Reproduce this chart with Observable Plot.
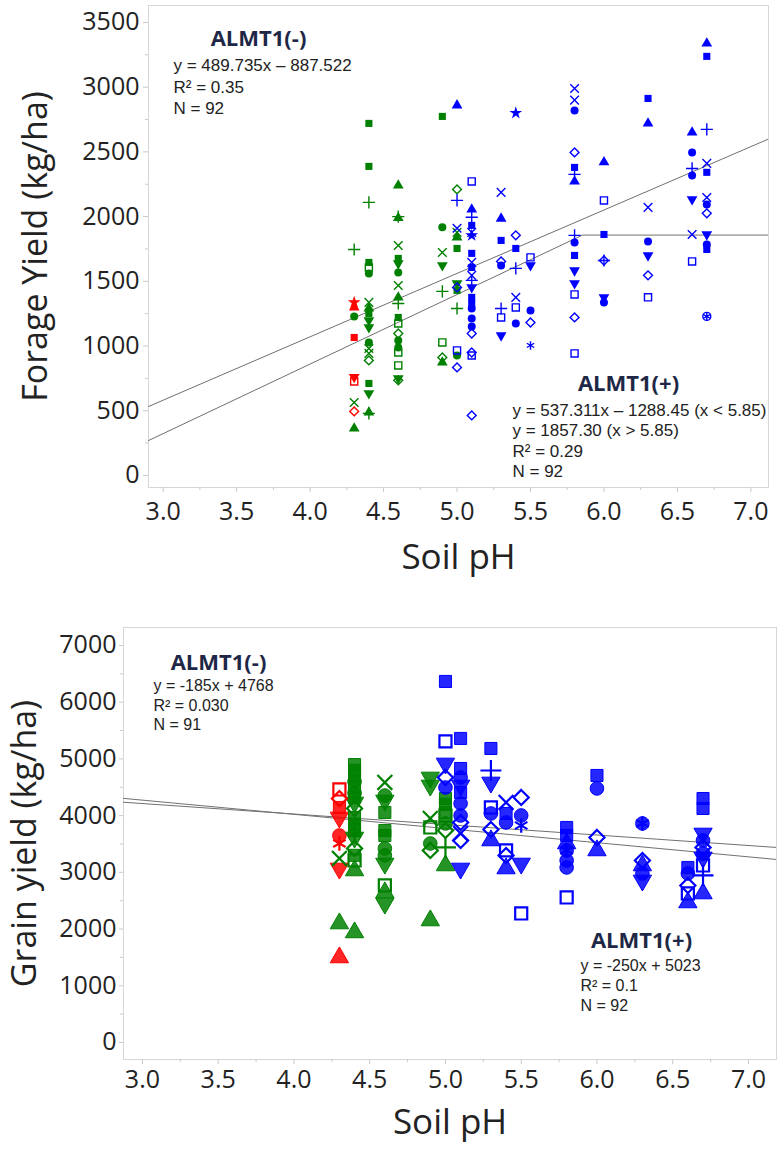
<!DOCTYPE html>
<html>
<head>
<meta charset="utf-8">
<script src="https://cdn.jsdelivr.net/npm/d3@7"></script>
<script src="https://cdn.jsdelivr.net/npm/@observablehq/plot@0.6"></script>
<style>
  body { margin: 0; background: #fff; }
  #chart { width: 777px; }
  #chart svg { display: block; }
</style>
</head>
<body>
<div id="chart"></div>
<script>
// ---------------- DATA ----------------
// Colour groups (categories) and marker codes
const groups = ["red", "green", "blue"];
const groupColors = ["#e8283e", "#34a04a", "#2563f0"];
const shapeCodes = ["sq", "sqo", "ci", "cio", "tu", "td", "dio", "x", "pl", "st", "as"];
const openCodes = ["sqo", "cio", "dio", "x", "pl", "as"];

// Axis ticks
const xTicks = [3.0, 3.5, 4.0, 4.5, 5.0, 5.5, 6.0, 6.5, 7.0];
const xMinorTicks = [3.25, 3.75, 4.25, 4.75, 5.25, 5.75, 6.25, 6.75];
const forageYTicks = [0, 500, 1000, 1500, 2000, 2500, 3000, 3500];
const forageYMinor = [250, 750, 1250, 1750, 2250, 2750, 3250];
const grainYTicks = [0, 1000, 2000, 3000, 4000, 5000, 6000, 7000];
const grainYMinor = [500, 1500, 2500, 3500, 4500, 5500, 6500];

// Forage yield (kg/ha) vs soil pH : [pH, yield, marker]
const forageRed = [
  [4.3,1337,"st"],[4.3,1298,"tu"],[4.3,1066,"sq"],[4.3,760,"td"],[4.3,726,"sqo"],[4.3,495,"dio"]
];
const forageGreen = [
  [4.3,1746,"pl"],[4.3,1229,"ci"],[4.3,564,"x"],[4.3,363,"tu"],
  [4.4,2720,"sq"],[4.4,2388,"sq"],[4.4,2110,"pl"],[4.4,1646,"sq"],[4.4,1607,"sqo"],[4.4,1561,"ci"],
  [4.4,1337,"x"],[4.4,1290,"tu"],[4.4,1252,"sq"],[4.4,1198,"td"],[4.4,1144,"td"],[4.4,1028,"ci"],
  [4.4,981,"x"],[4.4,943,"x"],[4.4,889,"dio"],[4.4,711,"sq"],[4.4,634,"td"],[4.4,487,"tu"],[4.4,480,"pl"],
  [4.6,2241,"tu"],[4.6,2000,"pl"],[4.6,1990,"tu"],[4.6,1777,"x"],[4.6,1677,"sq"],[4.6,1638,"td"],
  [4.6,1569,"ci"],[4.6,1468,"x"],[4.6,1376,"tu"],[4.6,1329,"pl"],[4.6,1221,"sq"],[4.6,1175,"sqo"],
  [4.6,1097,"dio"],[4.6,1043,"ci"],[4.6,989,"ci"],[4.6,950,"sqo"],[4.6,850,"sqo"],[4.6,750,"td"],[4.6,735,"dio"],
  [4.9,2774,"sq"],[4.9,1917,"ci"],[4.9,1723,"x"],[4.9,1623,"td"],[4.9,1422,"pl"],[4.9,1028,"sqo"],[4.9,912,"dio"],[4.9,873,"tu"],
  [5.0,2210,"dio"],[5.0,1878,"x"],[5.0,1840,"tu"],[5.0,1754,"sq"],[5.0,1484,"td"],[5.0,1430,"sq"],[5.0,1290,"pl"],[5.0,927,"ci"]
];
const forageBlue = [
  [5.0,2860,"tu"],[5.0,2125,"pl"],[5.0,1910,"x"],[5.0,1453,"dio"],[5.0,966,"sqo"],[5.0,835,"dio"],
  [5.1,2272,"sqo"],[5.1,2055,"tu"],[5.1,1995,"pl"],[5.1,1932,"sq"],[5.1,1878,"x"],[5.1,1855,"st"],
  [5.1,1716,"sq"],[5.1,1646,"x"],[5.1,1607,"sq"],[5.1,1546,"x"],[5.1,1507,"pl"],[5.1,1453,"td"],
  [5.1,1376,"sq"],[5.1,1329,"sq"],[5.1,1290,"ci"],[5.1,1213,"ci"],[5.1,1151,"ci"],[5.1,1097,"dio"],
  [5.1,950,"dio"],[5.1,927,"sqo"],[5.1,464,"dio"],
  [5.3,2187,"x"],[5.3,1985,"tu"],[5.3,1816,"sq"],[5.3,1654,"dio"],[5.3,1623,"ci"],[5.3,1290,"pl"],[5.3,1221,"sqo"],[5.3,1082,"td"],
  [5.4,2800,"st"],[5.4,1855,"dio"],[5.4,1754,"sq"],[5.4,1600,"pl"],[5.4,1376,"x"],[5.4,1298,"sqo"],[5.4,1175,"ci"],
  [5.5,1685,"sqo"],[5.5,1623,"td"],[5.5,1275,"ci"],[5.5,1182,"dio"],[5.5,1005,"as"],
  [5.8,2990,"x"],[5.8,2900,"x"],[5.8,2820,"ci"],[5.8,2496,"dio"],[5.8,2380,"sq"],[5.8,2326,"pl"],[5.8,2272,"tu"],
  [5.8,1855,"pl"],[5.8,1800,"ci"],[5.8,1700,"sq"],[5.8,1584,"td"],[5.8,1484,"td"],[5.8,1399,"sqo"],[5.8,1221,"dio"],[5.8,943,"sqo"],
  [6.0,2420,"tu"],[6.0,2125,"sqo"],[6.0,1862,"sq"],[6.0,1661,"dio"],[6.0,1661,"pl"],[6.0,1376,"td"],[6.0,1337,"ci"],
  [6.3,2913,"sq"],[6.3,2720,"tu"],[6.3,2071,"x"],[6.3,1808,"ci"],[6.3,1700,"td"],[6.3,1546,"dio"],[6.3,1376,"sqo"],
  [6.6,2650,"tu"],[6.6,2496,"ci"],[6.6,2372,"pl"],[6.6,2318,"ci"],[6.6,2133,"td"],[6.6,1862,"x"],[6.6,1654,"sqo"],
  [6.7,3338,"tu"],[6.7,3238,"sq"],[6.7,2674,"pl"],[6.7,2411,"x"],[6.7,2342,"sq"],[6.7,2148,"x"],[6.7,2094,"ci"],
  [6.7,2025,"dio"],[6.7,1862,"td"],[6.7,1785,"ci"],[6.7,1746,"sq"],[6.7,1229,"cio"],[6.7,1229,"as"]
];

// Grain yield (kg/ha) vs soil pH : [pH, yield, marker]
const grainRed = [
  [4.3,4461,"sqo"],[4.3,4300,"dio"],[4.3,4144,"sq"],[4.3,3968,"td"],[4.3,3650,"ci"],[4.3,3509,"as"],[4.3,3068,"td"],[4.3,1499,"tu"]
];
const grainGreen = [
  [4.3,3245,"x"],[4.3,2098,"tu"],
  [4.4,4900,"sq"],[4.4,4800,"sq"],[4.4,4700,"sq"],[4.4,4600,"ci"],[4.4,4500,"sq"],[4.4,4400,"ci"],[4.4,4320,"sq"],
  [4.4,4232,"td"],[4.4,4126,"dio"],[4.4,3968,"sq"],[4.4,3850,"sq"],[4.4,3738,"sq"],[4.4,3685,"as"],[4.4,3615,"td"],
  [4.4,3421,"dio"],[4.4,3300,"sq"],[4.4,3209,"sqo"],[4.4,3033,"tu"],[4.4,1940,"tu"],
  [4.6,4585,"x"],[4.6,4355,"ci"],[4.6,4267,"td"],[4.6,4056,"sq"],[4.6,3738,"sq"],[4.6,3650,"sq"],[4.6,3421,"ci"],
  [4.6,3300,"ci"],[4.6,3156,"td"],[4.6,2768,"sqo"],[4.6,2645,"tu"],[4.6,2451,"td"],
  [4.9,4673,"td"],[4.9,4532,"td"],[4.9,3950,"x"],[4.9,3791,"sqo"],[4.9,3509,"ci"],[4.9,3386,"dio"],[4.9,2151,"tu"],
  [5.0,4302,"sq"],[5.0,4200,"sq"],[5.0,4056,"sq"],[5.0,4000,"sqo"],[5.0,3862,"ci"],[5.0,3738,"dio"],[5.0,3439,"pl"],[5.0,3121,"tu"]
];
const grainBlue = [
  [5.0,6366,"sq"],[5.0,5308,"sqo"],[5.0,4920,"td"],[5.0,4673,"dio"],[5.0,4496,"ci"],
  [5.1,5361,"sq"],[5.1,4831,"sq"],[5.1,4673,"ci"],[5.1,4532,"td"],[5.1,4408,"sq"],[5.1,4214,"ci"],[5.1,4003,"ci"],
  [5.1,3879,"dio"],[5.1,3685,"x"],[5.1,3562,"dio"],[5.1,3068,"td"],
  [5.3,5184,"sq"],[5.3,4796,"pl"],[5.3,4585,"td"],[5.3,4144,"sqo"],[5.3,4038,"ci"],[5.3,3756,"dio"],[5.3,3562,"tu"],
  [5.4,4232,"x"],[5.4,4038,"sq"],[5.4,3879,"ci"],[5.4,3386,"sqo"],[5.4,3297,"dio"],[5.4,3068,"tu"],
  [5.5,4320,"dio"],[5.5,4003,"ci"],[5.5,3826,"as"],[5.5,3156,"td"],[5.5,2275,"sqo"],
  [5.8,3791,"sq"],[5.8,3650,"sq"],[5.8,3509,"tu"],[5.8,3386,"ci"],[5.8,3386,"as"],[5.8,3209,"ci"],[5.8,3086,"ci"],[5.8,2557,"sqo"],
  [6.0,4708,"sq"],[6.0,4479,"ci"],[6.0,3615,"dio"],[6.0,3386,"tu"],
  [6.3,3862,"ci"],[6.3,3862,"as"],[6.3,3209,"dio"],[6.3,3121,"tu"],[6.3,2980,"ci"],[6.3,2857,"td"],
  [6.6,3086,"sq"],[6.6,2980,"ci"],[6.6,2768,"dio"],[6.6,2627,"sqo"],[6.6,2469,"tu"],
  [6.7,4302,"sq"],[6.7,4126,"sq"],[6.7,3685,"td"],[6.7,3562,"ci"],[6.7,3439,"dio"],[6.7,3333,"ci"],
  [6.7,3262,"td"],[6.7,3121,"sqo"],[6.7,2945,"pl"],[6.7,2627,"tu"]
];

// Regression fits (from the printed equations)
const forageFitMinus = {slope: 489.735, intercept: -887.522};
const forageFitPlus = {slope: 537.311, intercept: -1288.45, breakAt: 5.85, plateau: 1857.30};
const grainFitMinus = {slope: -185, intercept: 4768};
const grainFitPlus = {slope: -250, intercept: 5023};

// Annotation texts
const forageTextMinus = ["ALMT1(-)", "y = 489.735x \u2013 887.522\nR\u00b2 = 0.35\nN = 92"];
const forageTextPlus = ["ALMT1(+)", "y = 537.311x \u2013 1288.45 (x < 5.85)\ny = 1857.30 (x > 5.85)\nR\u00b2 = 0.29\nN = 92"];
const grainTextMinus = ["ALMT1(-)", "y = -185x + 4768\nR\u00b2 = 0.030\nN = 91"];
const grainTextPlus = ["ALMT1(+)", "y = -250x + 5023\nR\u00b2 = 0.1\nN = 92"];

// ---------------- HELPERS ----------------
const triangleDown = {
  draw(context, size) {
    const s3 = Math.sqrt(3);
    const y = -Math.sqrt(size / (s3 * 3));
    context.moveTo(0, -y * 2);
    context.lineTo(-s3 * y, y);
    context.lineTo(s3 * y, y);
    context.closePath();
  }
};
const shapeSymbols = [d3.symbolSquare, d3.symbolSquare, d3.symbolCircle, d3.symbolCircle,
  d3.symbolTriangle, triangleDown, d3.symbolDiamond2, d3.symbolTimes, d3.symbolPlus, d3.symbolStar, d3.symbolAsterisk];

function points(red, green, blue) {
  const all = [];
  [[red, "red"], [green, "green"], [blue, "blue"]].forEach(([arr, g]) =>
    arr.forEach(([x, y, s]) => all.push({x, y, s, g})));
  return all;
}
function fitLine(fit, domain, id) {
  const f = x => fit.slope * x + fit.intercept;
  if (fit.breakAt === undefined) return domain.map(x => ({id, x, y: f(x)}));
  return [
    {id, x: domain[0], y: f(domain[0])},
    {id, x: fit.breakAt, y: f(fit.breakAt)},
    {id, x: fit.breakAt, y: fit.plateau},
    {id, x: domain[1], y: fit.plateau}
  ];
}

const FONT = "'Open Sans', 'Noto Sans', sans-serif";
const NOTE_FONT = "'Liberation Sans', Arial, sans-serif";
const TEXT = "#222";
const TITLE = "#1e2846";
const GRID = "#c9c9c9";

function panel(cfg) {
  const pts = points(...cfg.data);
  const filled = pts.filter(d => !openCodes.includes(d.s));
  const open = pts.filter(d => openCodes.includes(d.s));
  const lines = fitLine(cfg.fits[0], cfg.xDomain, "minus").concat(fitLine(cfg.fits[1], cfg.xDomain, "plus"));
  return Plot.plot({
    width: 777,
    height: cfg.height,
    marginLeft: cfg.margin[3], marginRight: cfg.margin[1],
    marginTop: cfg.margin[0], marginBottom: cfg.margin[2],
    style: {fontFamily: FONT, background: "white", color: TEXT},
    x: {domain: cfg.xDomain},
    y: {domain: cfg.yDomain},
    color: {domain: groups, range: groupColors},
    symbol: {domain: shapeCodes, range: shapeSymbols},
    marks: [
      Plot.frame({stroke: "#d6d6d6"}),
      Plot.axisX({ticks: xMinorTicks, tickSize: 3, fill: "none", stroke: GRID, label: null}),
      Plot.axisX({ticks: xTicks, tickSize: 5, tickPadding: cfg.xPad, tickFormat: d3.format(".1f"),
        fontSize: 25, stroke: GRID, fill: TEXT, label: null}),
      Plot.axisY({ticks: cfg.yMinor, tickSize: 3, fill: "none", stroke: GRID, label: null}),
      Plot.axisY({ticks: cfg.yTicks, tickSize: cfg.yTickSize, tickPadding: cfg.yPad, tickFormat: d => String(d),
        fontSize: 25, stroke: GRID, fill: TEXT, label: null}),
      Plot.line(lines, {x: "x", y: "y", z: "id", stroke: "#707070", strokeWidth: 1, clip: true}),
      Plot.dot(filled, {x: "x", y: "y", symbol: "s", fill: "g", stroke: cfg.outline ? "g" : "none",
        fillOpacity: cfg.fillOpacity, strokeWidth: 1, r: cfg.r}),
      Plot.dot(open, {x: "x", y: "y", symbol: "s", fill: "none", stroke: "g", strokeWidth: cfg.openWidth, r: cfg.r}),
      // axis titles
      Plot.text([cfg.xTitle], {frameAnchor: "bottom", dy: cfg.xTitleDy, text: d => d, fontSize: 35,
        fill: TEXT, lineAnchor: "middle"}),
      Plot.text([cfg.yTitle], {frameAnchor: "left", dx: cfg.yTitleDx, text: d => d, fontSize: 34,
        rotate: -90, fill: TEXT, lineAnchor: "middle", textAnchor: "middle"}),
      // annotations
      ...cfg.notes.flatMap(n => [
        Plot.text([n.text[0]], {frameAnchor: "top-left", dx: n.title[0], dy: n.title[1], text: d => d,
          fontSize: 22, fontWeight: "bold", fill: TITLE, textAnchor: "middle", lineAnchor: "middle"}),
        Plot.text([n.text[1]], {frameAnchor: "top-left", dx: n.body[0], dy: n.body[1], text: d => d,
          fontFamily: NOTE_FONT, fontSize: n.size, lineHeight: n.lh, fill: TEXT, textAnchor: "start", lineAnchor: "top"})
      ])
    ]
  });
}

const foragePanel = panel({
  data: [forageRed, forageGreen, forageBlue],
  fits: [forageFitMinus, forageFitPlus],
  height: 590, margin: [5, 9, 103, 148],
  xDomain: [2.9, 7.12], yDomain: [-93, 3631],
  yTicks: forageYTicks, yMinor: forageYMinor,
  xPad: 10, yPad: 4, yTickSize: 5,
  r: 4, outline: false, fillOpacity: 1, openWidth: 1.4,
  xTitle: "Soil pH", xTitleDy: 70,
  yTitle: "Forage Yield (kg/ha)", yTitleDx: -112,
  notes: [
    {text: forageTextMinus, title: [110, 33], body: [25, 51], size: 17, lh: 1.24},
    {text: forageTextPlus, title: [480, 378], body: [364, 396], size: 17, lh: 1.2}
  ]
});

const grainPanel = panel({
  data: [grainRed, grainGreen, grainBlue],
  fits: [grainFitMinus, grainFitPlus],
  height: 560, margin: [37, 1, 91, 123],
  xDomain: [2.875, 7.185], yDomain: [-300, 7317],
  yTicks: grainYTicks, yMinor: grainYMinor,
  xPad: 6, yPad: 3, yTickSize: 4,
  r: 6.8, outline: true, fillOpacity: 0.85, openWidth: 2.2,
  xTitle: "Soil pH", xTitleDy: 63,
  yTitle: "Grain yield (kg/ha)", yTitleDx: -98,
  notes: [
    {text: grainTextMinus, title: [95, 35], body: [30, 50], size: 16, lh: 1.22},
    {text: grainTextPlus, title: [518, 313], body: [457, 329], size: 16, lh: 1.25}
  ]
});

const chart = document.getElementById("chart");
chart.appendChild(foragePanel);
chart.appendChild(grainPanel);
</script>
</body>
</html>
